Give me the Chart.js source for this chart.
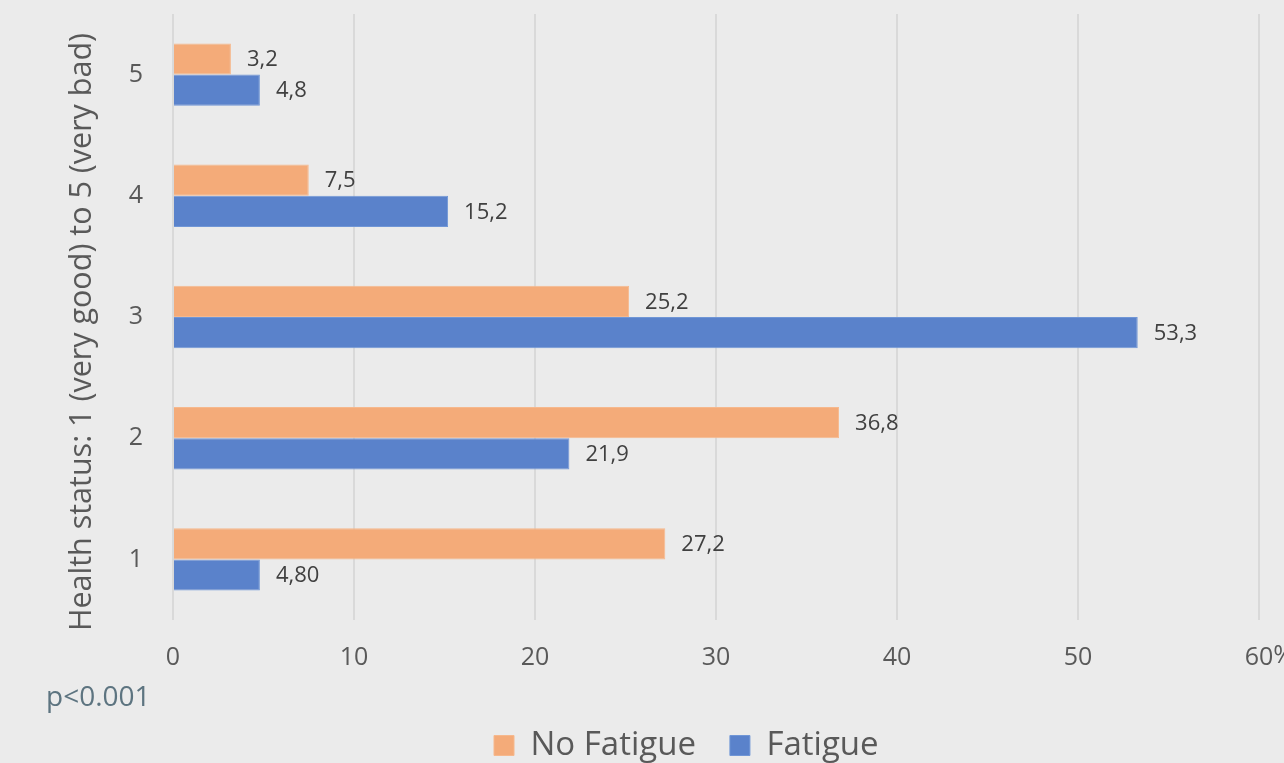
<!DOCTYPE html>
<html>
<head>
<meta charset="utf-8">
<script src="https://cdn.jsdelivr.net/npm/chart.js@4.4.1/dist/chart.umd.min.js"></script>
<style>
  html, body { margin: 0; padding: 0; background: #ebebeb; overflow: hidden; }
  #wrap { width: 1284px; height: 763px; position: relative; }
</style>
</head>
<body>
<div id="wrap"><canvas id="c" width="1284" height="763"></canvas></div>
<script>
// Health status categories, top to bottom
const categories = ['5', '4', '3', '2', '1'];

// Share of respondents (%) per health status
const noFatigue = [3.2, 7.5, 25.2, 36.8, 27.2];
const fatigue = [4.8, 15.2, 53.3, 21.9, 4.8];

// Value labels as printed next to each bar
const noFatigueLabels = ['3,2', '7,5', '25,2', '36,8', '27,2'];
const fatigueLabels = ['4,8', '15,2', '53,3', '21,9', '4,80'];

const xTickMax = 60;
const xTickStep = 10;

const FONT = "'Open Sans', 'DejaVu Sans', sans-serif";
const TICK_COLOR = '#595959';
const TICK_SIZE = 25;
const TICK_PAD = 23;
const PLOT_BOTTOM = 620;   // bottom edge of the plotting area
const LEGEND_LEFT = 494;   // first legend swatch
const LEGEND_DROP = 9;     // extra space above the legend row

// Value labels to the right of each bar, the y-axis title, the note and the % sign
const annotations = {
  id: 'annotations',
  afterLayout(chart) {
    const lg = chart.legend;
    if (!lg || !lg.lineWidths) return;
    const pad = lg.options.labels.padding;
    const start = (lg.left + pad + lg.right - lg.lineWidths[0]) / 2;
    const dx = LEGEND_LEFT - start;
    lg.left += dx;
    lg.right += dx;
    lg.top += LEGEND_DROP;
    lg.bottom += LEGEND_DROP;
  },
  afterDatasetsDraw(chart) {
    const ctx = chart.ctx;
    const labelSets = [noFatigueLabels, fatigueLabels];
    ctx.save();
    ctx.font = `22px ${FONT}`;
    ctx.fillStyle = '#404040';
    ctx.textAlign = 'left';
    ctx.textBaseline = 'middle';
    chart.data.datasets.forEach((ds, di) => {
      const meta = chart.getDatasetMeta(di);
      meta.data.forEach((bar, i) => {
        ctx.fillText(labelSets[di][i], bar.x + 16, bar.y + 1);
      });
    });
    ctx.restore();
  },
  afterDraw(chart) {
    const ctx = chart.ctx;
    const xs = chart.scales.x;
    ctx.save();
    // y-axis title
    ctx.font = `30.5px ${FONT}`;
    ctx.fillStyle = TICK_COLOR;
    ctx.textAlign = 'center';
    ctx.textBaseline = 'middle';
    ctx.translate(82, 332);
    ctx.rotate(-Math.PI / 2);
    ctx.fillText('Health status: 1 (very good) to 5 (very bad)', 0, 0);
    ctx.restore();

    ctx.save();
    // percent sign after the last x tick
    ctx.font = `${TICK_SIZE}px ${FONT}`;
    ctx.fillStyle = TICK_COLOR;
    ctx.textBaseline = 'top';
    ctx.textAlign = 'left';
    const w = ctx.measureText(String(xTickMax)).width;
    ctx.fillText('%', xs.getPixelForValue(xTickMax) + w / 2, xs.top + TICK_PAD);

    // significance note
    ctx.font = `28px ${FONT}`;
    ctx.fillStyle = '#5d7480';
    ctx.textBaseline = 'alphabetic';
    ctx.fillText('p<0.001', 46, 706);
    ctx.restore();
  }
};

new Chart(document.getElementById('c'), {
  type: 'bar',
  data: {
    labels: categories,
    datasets: [
      {
        label: 'No Fatigue',
        data: noFatigue,
        backgroundColor: '#f4ab79',
        borderColor: '#f6b88d',
        borderWidth: 1,
        categoryPercentage: 0.515,
        barPercentage: 1
      },
      {
        label: 'Fatigue',
        data: fatigue,
        backgroundColor: '#5a82cb',
        borderColor: '#7096d6',
        borderWidth: 1,
        categoryPercentage: 0.515,
        barPercentage: 1
      }
    ]
  },
  options: {
    indexAxis: 'y',
    responsive: false,
    animation: false,
    devicePixelRatio: 1,
    layout: { padding: { top: 14, right: 25, left: 0, bottom: 0 } },
    scales: {
      x: {
        min: 0,
        max: xTickMax,
        ticks: {
          stepSize: xTickStep,
          color: TICK_COLOR,
          font: { family: FONT, size: TICK_SIZE },
          padding: TICK_PAD,
          maxRotation: 0
        },
        grid: { color: '#d9d9d9', lineWidth: 2, drawTicks: false },
        border: { display: false },
        afterFit(scale) {
          const lg = scale.chart.legend;
          const lh = lg && lg.height ? lg.height : 76;
          scale.height = scale.chart.height - PLOT_BOTTOM - lh;
          scale.paddingLeft = 0;
          scale.paddingRight = 0;
        }
      },
      y: {
        ticks: {
          color: TICK_COLOR,
          font: { family: FONT, size: TICK_SIZE },
          padding: 30
        },
        grid: { display: false, drawTicks: false },
        border: { display: false },
        afterFit(scale) {
          scale.width = 173;
          scale.paddingTop = 0;
          scale.paddingBottom = 0;
        }
      }
    },
    plugins: {
      legend: {
        position: 'bottom',
        labels: {
          color: TICK_COLOR,
          font: { family: FONT, size: 33 },
          boxWidth: 20,
          boxHeight: 20,
          padding: 34
        }
      },
      tooltip: { enabled: false }
    }
  },
  plugins: [annotations]
});
</script>
</body>
</html>
